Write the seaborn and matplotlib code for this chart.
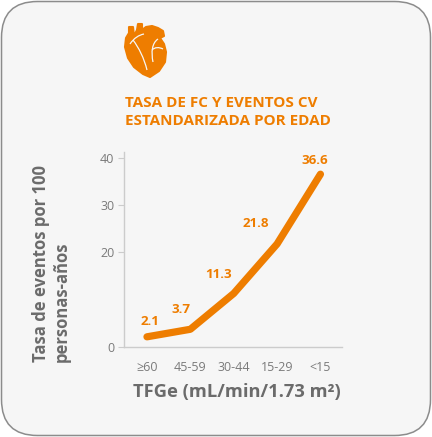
import matplotlib
matplotlib.use("Agg")
import matplotlib.pyplot as plt
import seaborn as sns
import pandas as pd
from matplotlib.patches import FancyBboxPatch, Polygon
from matplotlib.path import Path
from matplotlib.patches import PathPatch

# ---- data ----
categories = ["≥60", "45-59", "30-44", "15-29", "<15"]
rates = [2.1, 3.7, 11.3, 21.8, 36.6]
value_labels = ["2.1", "3.7", "11.3", "21.8", "36.6"]
y_ticks = [0, 20, 30, 40]
y_tick_labels = ["0", "20", "30", "40"]

title_text = "TASA DE FC Y EVENTOS CV\nESTANDARIZADA POR EDAD"
x_label = "TFGe (mL/min/1.73 m²)"
y_label = "Tasa de eventos por 100\npersonas-años"

ORANGE = "#EE7D00"
GRAY_TXT = "#6b6b6b"
TICK_TXT = "#7a7a7a"

sns.set_theme(style="white")
plt.rcParams["font.family"] = ["Open Sans", "DejaVu Sans"]

fig = plt.figure(figsize=(4.32, 4.37), dpi=100)
fig.patch.set_facecolor("white")

# background card & icon (pixel coordinates)
bg = fig.add_axes([0, 0, 1, 1])
bg.set_xlim(0, 432)
bg.set_ylim(437, 0)
bg.axis("off")
bg.add_patch(FancyBboxPatch((1.5, 1.5), 429, 434,
                            boxstyle="round,pad=0,rounding_size=36",
                            facecolor="#f6f6f6", edgecolor="#8c8c8c", linewidth=1.1))

heart = [(129, 27), (133, 27), (134, 36), (137, 30), (138, 24), (142, 24), (142, 30),
         (146, 27), (152, 26), (158, 28), (163, 31), (164, 36), (160, 38), (164, 44),
         (166, 52), (165, 62), (159, 71), (150, 77), (143, 74), (134, 67), (128, 58),
         (125, 47), (126, 38), (129, 33)]
bg.add_patch(Polygon(heart, closed=True, facecolor=ORANGE, edgecolor=ORANGE,
                     linewidth=1.5, joinstyle="round"))
for verts in ([(133, 40), (139, 48), (144, 58), (147, 70)],
              [(158, 39), (152, 43), (151, 52), (153, 62)],
              [(130, 44), (134, 38), (139, 35), (144, 34)],
              [(152, 50), (155, 47), (159, 47), (163, 49)]):
    codes = [Path.MOVETO, Path.CURVE4, Path.CURVE4, Path.CURVE4]
    bg.add_patch(PathPatch(Path(verts, codes), facecolor="none",
                           edgecolor="#f6f6f6", linewidth=0.9))

bg.text(125, 112, title_text, ha="left", va="center", fontsize=11.0,
        fontweight="bold", color=ORANGE, linespacing=1.45)

# main chart
ax = fig.add_axes([0.287, 0.2066, 0.504, 0.4455])
ax.patch.set_alpha(0)
df = pd.DataFrame({"TFGe": categories, "rate": rates})
sns.lineplot(data=df, x="TFGe", y="rate", sort=False, ax=ax, color=ORANGE,
             linewidth=5.2, solid_capstyle="round", solid_joinstyle="round")

offsets = [(2, 11), (-7, 14), (-11, 14), (-15, 15), (-4, 10)]
for i, (v, lab) in enumerate(zip(rates, value_labels)):
    ax.annotate(lab, (i, v), xytext=offsets[i], textcoords="offset points",
                ha="center", va="center", fontsize=9.6, fontweight="bold", color=ORANGE)

ax.set_xlim(-0.53, 4.49)
ax.set_ylim(0, 41.3)
ax.set_yticks(y_ticks)
ax.set_yticklabels(y_tick_labels)
ax.set_xlabel("")
ax.set_ylabel("")
for s in ["top", "right"]:
    ax.spines[s].set_visible(False)
for s in ["left", "bottom"]:
    ax.spines[s].set_color("#cccccc")
    ax.spines[s].set_linewidth(1.0)
ax.tick_params(axis="y", left=True, length=4, width=0.8, color="#cccccc",
               labelsize=9, labelcolor=TICK_TXT, pad=3)
ax.tick_params(axis="x", bottom=False, labelsize=9, labelcolor=TICK_TXT, pad=4)

bg.text(237, 392, x_label, ha="center", va="center", fontsize=13.2,
        fontweight="bold", color=GRAY_TXT)
bg.text(51, 362, y_label, ha="center", va="bottom", rotation=90, fontsize=12,
        fontweight="bold", color=GRAY_TXT, multialignment="left", linespacing=1.2)

fig.savefig("out.png", dpi=100, facecolor="white")
